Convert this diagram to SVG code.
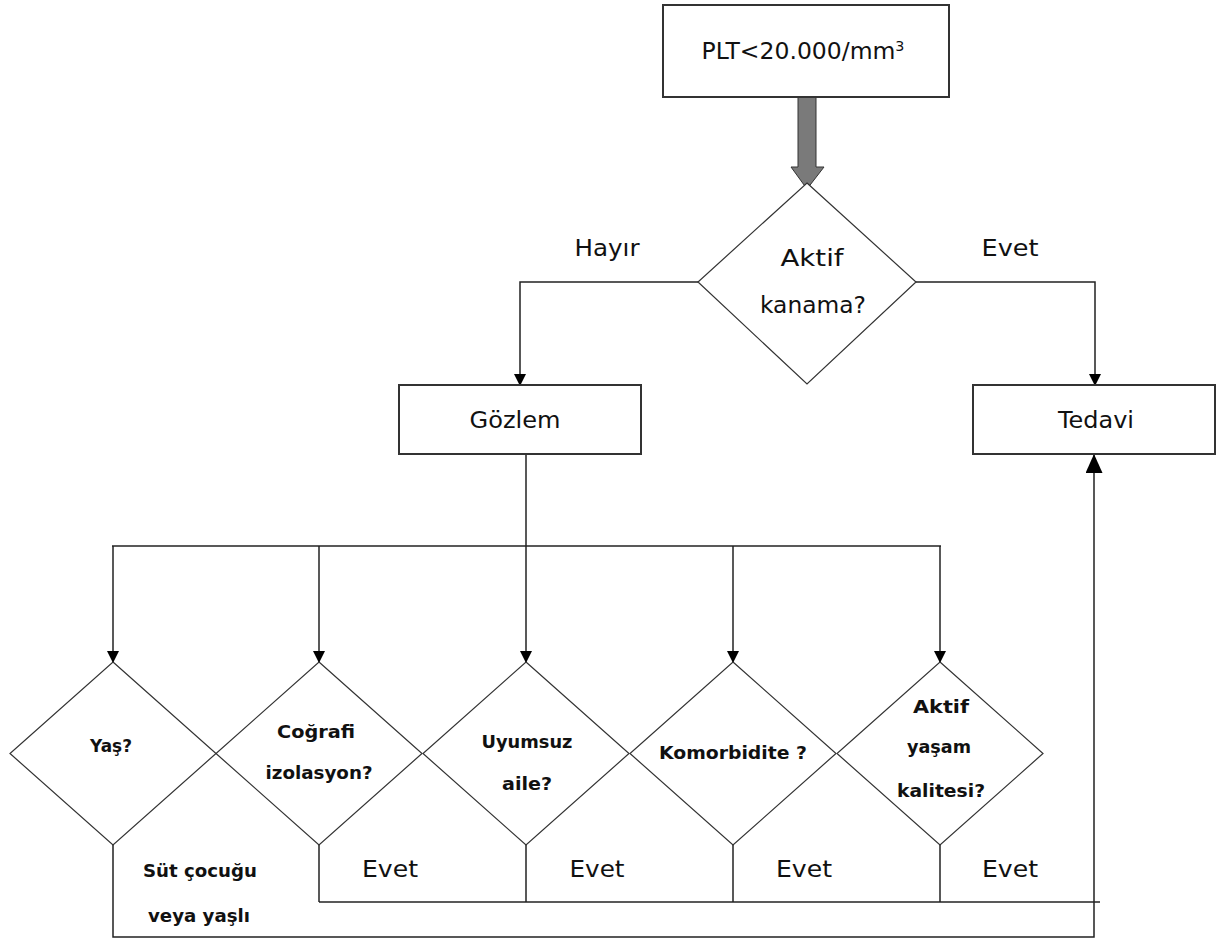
<svg xmlns="http://www.w3.org/2000/svg" width="1218" height="940" viewBox="0 0 1218 940">
<style>
.box{fill:#fff;stroke:#333;stroke-width:2}
.dia{fill:#fff;stroke:#333;stroke-width:1.2}
.ln{fill:none;stroke:#222;stroke-width:1.5}
.t{font-family:"DejaVu Sans","Liberation Sans",sans-serif;fill:#111;text-anchor:middle}
.big{font-size:23px}
.sm{font-size:17px;font-weight:bold}
</style>
<defs>
<marker id="ah" markerUnits="userSpaceOnUse" markerWidth="12" markerHeight="14" refX="11" refY="6" orient="auto">
<path d="M0,0 L12,6 L0,12 Z" fill="#000"/>
</marker>
<marker id="ahb" markerUnits="userSpaceOnUse" markerWidth="20" markerHeight="18" refX="19" refY="8.5" orient="auto">
<path d="M0,0 L19,8.5 L0,17 Z" fill="#000"/>
</marker>
</defs>
<rect width="1218" height="940" fill="#fff"/>
<g id="connectors">
<polygon points="798,97 816,97 816,167 824,167 807,189 791,167 798,167" fill="#7a7a7a" stroke="#333" stroke-width="1"/>
<polyline class="ln" points="698,282 520,282 520,385" marker-end="url(#ah)"/>
<polyline class="ln" points="916,282 1095,282 1095,385" marker-end="url(#ah)"/>
<line class="ln" x1="526" y1="454" x2="526" y2="546"/>
<line class="ln" x1="112" y1="546" x2="941" y2="546"/>
<line class="ln" x1="113" y1="546" x2="113" y2="662" marker-end="url(#ah)"/>
<line class="ln" x1="319" y1="546" x2="319" y2="662" marker-end="url(#ah)"/>
<line class="ln" x1="526" y1="546" x2="526" y2="662" marker-end="url(#ah)"/>
<line class="ln" x1="733" y1="546" x2="733" y2="662" marker-end="url(#ah)"/>
<line class="ln" x1="940" y1="546" x2="940" y2="662" marker-end="url(#ah)"/>
<line class="ln" x1="319" y1="845" x2="319" y2="902"/>
<line class="ln" x1="526" y1="845" x2="526" y2="902"/>
<line class="ln" x1="733" y1="845" x2="733" y2="902"/>
<line class="ln" x1="940" y1="845" x2="940" y2="902"/>
<line class="ln" x1="319" y1="902" x2="1100" y2="902"/>
<polyline class="ln" points="113,845 113,937 1094,937 1094,454" marker-end="url(#ahb)"/>
<text class="t big" x="607" y="256" textLength="65" lengthAdjust="spacingAndGlyphs">Hayır</text>
<text class="t big" x="1010" y="256" textLength="57" lengthAdjust="spacingAndGlyphs">Evet</text>
<text class="t big" x="390" y="877" textLength="56" lengthAdjust="spacingAndGlyphs">Evet</text>
<text class="t big" x="597" y="877" textLength="55" lengthAdjust="spacingAndGlyphs">Evet</text>
<text class="t big" x="804" y="877" textLength="56" lengthAdjust="spacingAndGlyphs">Evet</text>
<text class="t big" x="1010" y="877" textLength="56" lengthAdjust="spacingAndGlyphs">Evet</text>
<text class="t sm" x="200" y="877" textLength="114" lengthAdjust="spacingAndGlyphs">Süt çocuğu</text>
<text class="t sm" x="199" y="922" textLength="102" lengthAdjust="spacingAndGlyphs">veya yaşlı</text>
</g>
<g id="n_plt">
<rect class="box" x="663" y="5" width="286" height="92"/>
<text class="t big" x="803" y="59" textLength="203" lengthAdjust="spacingAndGlyphs"><tspan>PLT&lt;20.000/mm</tspan><tspan font-size="14" dy="-8">3</tspan></text>
</g>
<g id="n_aktif">
<polygon class="dia" points="807,183 916,282 807,384 698,282"/>
<text class="t big" x="812" y="266" textLength="63" lengthAdjust="spacingAndGlyphs">Aktif</text>
<text class="t big" x="813" y="313" textLength="106" lengthAdjust="spacingAndGlyphs">kanama?</text>
</g>
<g id="n_gozlem">
<rect class="box" x="399" y="385" width="242" height="69"/>
<text class="t big" x="515" y="428" textLength="91" lengthAdjust="spacingAndGlyphs">Gözlem</text>
</g>
<g id="n_tedavi">
<rect class="box" x="973" y="385" width="242" height="69"/>
<text class="t big" x="1096" y="428" textLength="76" lengthAdjust="spacingAndGlyphs">Tedavi</text>
</g>
<g id="n_yas">
<polygon class="dia" points="113,662 216,753.5 113,845 10,753.5"/>
<text class="t sm" x="111" y="752" textLength="42" lengthAdjust="spacingAndGlyphs">Yaş?</text>
</g>
<g id="n_cografi">
<polygon class="dia" points="319,662 422,753.5 319,845 216,753.5"/>
<text class="t sm" x="316" y="738" textLength="78" lengthAdjust="spacingAndGlyphs">Coğrafi</text>
<text class="t sm" x="319" y="779" textLength="107" lengthAdjust="spacingAndGlyphs">izolasyon?</text>
</g>
<g id="n_uyumsuz">
<polygon class="dia" points="526,662 629,753.5 526,845 423,753.5"/>
<text class="t sm" x="527" y="748" textLength="91" lengthAdjust="spacingAndGlyphs">Uyumsuz</text>
<text class="t sm" x="527" y="790" textLength="50" lengthAdjust="spacingAndGlyphs">aile?</text>
</g>
<g id="n_komorbidite">
<polygon class="dia" points="733,662 836,753.5 733,845 630,753.5"/>
<text class="t sm" x="733" y="759" textLength="148" lengthAdjust="spacingAndGlyphs">Komorbidite ?</text>
</g>
<g id="n_yasam">
<polygon class="dia" points="940,662 1043,753.5 940,845 837,753.5"/>
<text class="t sm" x="941" y="713" textLength="56" lengthAdjust="spacingAndGlyphs">Aktif</text>
<text class="t sm" x="939" y="753" textLength="64" lengthAdjust="spacingAndGlyphs">yaşam</text>
<text class="t sm" x="941" y="797" textLength="88" lengthAdjust="spacingAndGlyphs">kalitesi?</text>
</g>
</svg>
